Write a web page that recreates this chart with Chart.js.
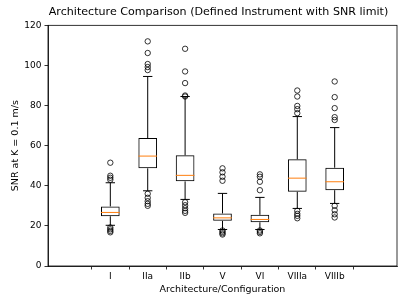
<!DOCTYPE html>
<html>
<head>
<meta charset="utf-8">
<script src="https://cdn.jsdelivr.net/npm/chart.js@4"></script>
<style>
  html, body { margin: 0; padding: 0; background: #fff; }
  #wrap { width: 407px; height: 305px; }
</style>
</head>
<body>
<div id="wrap"><canvas id="grafico"></canvas></div>
<script>
const categorias = ['I', 'IIa', 'IIb', 'V', 'VI', 'VIIIa', 'VIIIb'];
const q1 = [24.8, 48.7, 42.2, 22.5, 21.8, 37.0, 37.8];
const q3 = [29.7, 63.8, 55.2, 26.2, 25.5, 53.2, 49.0];
const medianas = [26.7, 54.8, 45.2, 24.0, 23.2, 43.8, 42.0];
const bigodeMin = [20.3, 37.5, 33.2, 18.2, 18.2, 28.7, 31.2];
const bigodeMax = [41.5, 94.5, 84.5, 36.2, 34.2, 74.5, 69.0];
const outliers = [
  [51.5, 45, 44, 43, 19.2, 18.3, 17.5, 16.8],
  [112, 106.2, 100.7, 99.2, 97.7, 36, 34, 32.3, 31, 30],
  [108.3, 97, 91.2, 85, 84.5, 31.8, 30.3, 28.8, 27.5, 26.5],
  [48.7, 46.7, 44.5, 42.5, 17.7, 17, 16.3, 15.7],
  [45.7, 44.5, 42, 37.8, 17.7, 17, 16.3],
  [87.5, 84.5, 79.8, 78.2, 76.2, 27.5, 26, 25, 23.8],
  [92, 84.2, 78.7, 74.2, 72.8, 30, 27.8, 25.8, 24.2]
];
const yTicks = [0, 20, 40, 60, 80, 100, 120];

const caixas = categorias.map((c, i) => ({ x: i + 1, y: [q1[i], q3[i]] }));
const pontos = [];
outliers.forEach((lista, i) => lista.forEach(v => pontos.push({ x: i + 1, y: v })));

// bigodes, medianas e moldura
const boxPlugin = {
  id: 'boxExtras',
  afterLayout(chart) {
    // titulo centrado sobre a area do grafico, como no matplotlib
    if (chart.titleBlock) chart.titleBlock.left += 40;
  },
  afterDatasetsDraw(chart) {
    const ctx = chart.ctx;
    const xs = chart.scales.x, ys = chart.scales.y;
    const meia = (xs.getPixelForValue(1.25) - xs.getPixelForValue(1));
    const cap = meia / 2;
    ctx.save();
    ctx.lineWidth = 1;
    categorias.forEach((c, i) => {
      const x = xs.getPixelForValue(i + 1);
      ctx.strokeStyle = '#000';
      ctx.beginPath();
      ctx.moveTo(x, ys.getPixelForValue(q3[i]));
      ctx.lineTo(x, ys.getPixelForValue(bigodeMax[i]));
      ctx.moveTo(x, ys.getPixelForValue(q1[i]));
      ctx.lineTo(x, ys.getPixelForValue(bigodeMin[i]));
      ctx.moveTo(x - cap, ys.getPixelForValue(bigodeMax[i]));
      ctx.lineTo(x + cap, ys.getPixelForValue(bigodeMax[i]));
      ctx.moveTo(x - cap, ys.getPixelForValue(bigodeMin[i]));
      ctx.lineTo(x + cap, ys.getPixelForValue(bigodeMin[i]));
      ctx.stroke();
      ctx.strokeStyle = '#ff7f0e';
      ctx.beginPath();
      ctx.moveTo(x - meia, ys.getPixelForValue(medianas[i]));
      ctx.lineTo(x + meia, ys.getPixelForValue(medianas[i]));
      ctx.stroke();
    });
    const a = chart.chartArea;
    ctx.strokeStyle = '#000';
    ctx.lineWidth = 0.8;
    ctx.strokeRect(a.left, a.top, a.right - a.left, a.bottom - a.top);
    ctx.restore();
  }
};

const fonte = { family: 'DejaVu Sans', size: 9 };
const fonteTitulo = { family: 'DejaVu Sans', size: 9.5 };

const ctx = document.getElementById('grafico').getContext('2d');
const meuGrafico = new Chart(ctx, {
  data: {
    datasets: [{
      type: 'bar',
      data: caixas,
      backgroundColor: 'rgba(255,255,255,0)',
      borderColor: '#000',
      borderWidth: 1,
      borderSkipped: false,
      barPercentage: 0.5,
      categoryPercentage: 1
    }, {
      type: 'scatter',
      data: pontos,
      pointStyle: 'circle',
      pointRadius: 2.7,
      pointBorderWidth: 0.8,
      pointBorderColor: '#000',
      pointBackgroundColor: 'rgba(255,255,255,0)'
    }]
  },
  options: {
    responsive: true,
    maintainAspectRatio: false,
    animation: false,
    layout: { padding: { left: 0, right: 10, top: 0, bottom: 10 } },
    plugins: {
      legend: { display: false },
      tooltip: { enabled: false },
      title: {
        display: true,
        text: 'Architecture Comparison (Defined Instrument with SNR limit)',
        color: '#000',
        font: { family: 'DejaVu Sans', size: 11.1, weight: 'normal' },
        padding: { top: 5, bottom: 7 }
      }
    },
    scales: {
      x: {
        type: 'linear',
        min: 0,
        max: 8,
        afterBuildTicks(scale) {
          scale.ticks = categorias.map((c, i) => ({ value: i + 1 }));
        },
        afterFit(scale) { scale.height = 29; },
        ticks: {
          color: '#000',
          font: fonte,
          padding: 2,
          maxRotation: 0,
          callback: (v) => categorias[v - 1]
        },
        grid: { display: true, drawOnChartArea: false, tickLength: 3.5, color: '#000', lineWidth: 0.8 },
        border: { display: true, color: '#000', width: 0.8 },
        title: { display: true, text: 'Architecture/Configuration', color: '#000', font: fonteTitulo, padding: { top: 2, bottom: 0 } }
      },
      y: {
        min: 0,
        max: 120,
        afterBuildTicks(scale) {
          scale.ticks = yTicks.map(v => ({ value: v }));
        },
        afterFit(scale) { scale.width = 48; },
        ticks: { color: '#000', font: fonte, padding: 3 },
        grid: { display: true, drawOnChartArea: false, tickLength: 3.5, color: '#000', lineWidth: 0.8 },
        border: { display: true, color: '#000', width: 0.8 },
        title: { display: true, text: 'SNR at K = 0.1 m/s', color: '#000', font: fonteTitulo, padding: { top: 10, bottom: 4 } }
      }
    }
  },
  plugins: [boxPlugin]
});
</script>
</body>
</html>
